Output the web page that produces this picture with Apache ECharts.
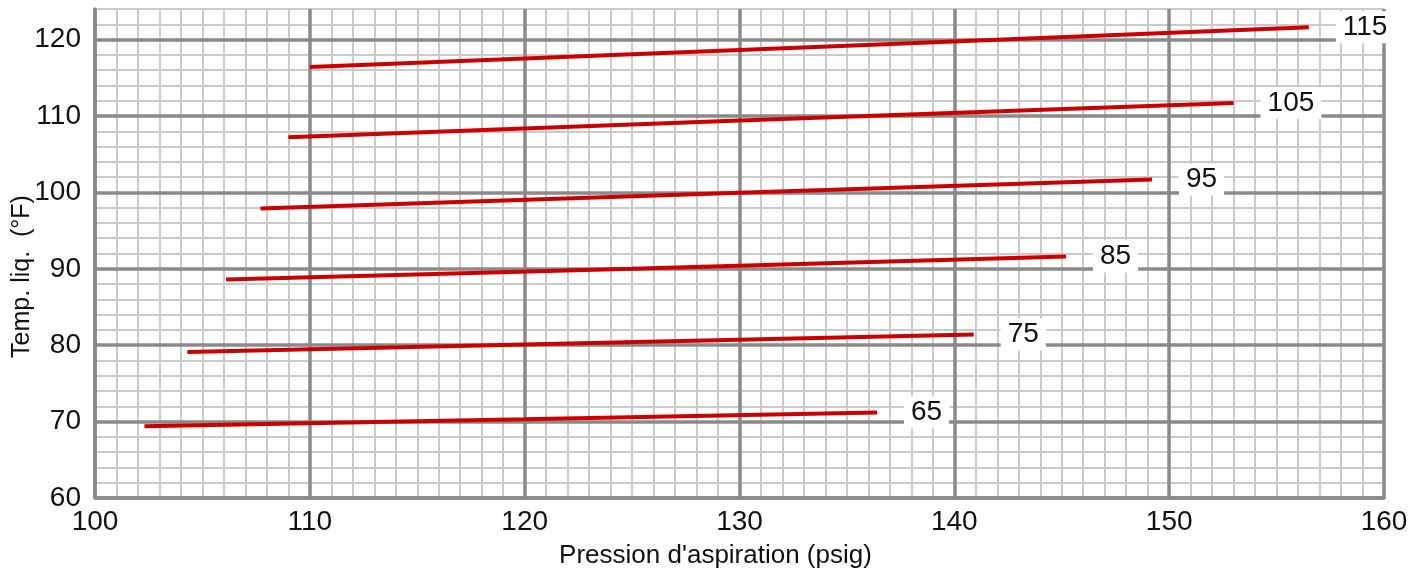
<!DOCTYPE html>
<html>
<head>
<meta charset="utf-8">
<script src="https://cdn.jsdelivr.net/npm/echarts@6/dist/echarts.min.js"></script>
<style>
  html, body { margin: 0; padding: 0; background: #fff; }
  #main { width: 1412px; height: 575px; }
</style>
</head>
<body>
<div id="main"></div>
<script>
// courbes : [pression, temp. liq.]
var names = ['65', '75', '85', '95', '105', '115'];
var c65 = [[102.3, 69.4], [120, 70.3], [136.4, 71.2]];
var c75 = [[104.3, 79.1], [120, 80.1], [140.9, 81.4]];
var c85 = [[106.1, 88.6], [125, 90.0], [145.2, 91.6]];
var c95 = [[107.7, 97.9], [130, 99.95], [149.2, 101.7]];
var c105 = [[109.0, 107.2], [130, 109.4], [153.0, 111.7]];
var c115 = [[110.0, 116.4], [135, 119.2], [156.5, 121.6]];
var curves = [c65, c75, c85, c95, c105, c115];

var xTicks = [100, 110, 120, 130, 140, 150, 160];
var yTicks = [60, 70, 80, 90, 100, 110, 120];

var font = 'Liberation Sans, Arial, sans-serif';
var major = '#8a8a8a';
var minor = '#cacaca';

var myChart = echarts.init(document.getElementById('main'));

var series = [];
for (var i = 0; i < curves.length; i++) {
    series.push({
        name: names[i],
        type: 'line',
        xAxisIndex: 0,
        yAxisIndex: 0,
        data: curves[i],
        showSymbol: false,
        smooth: false,
        z: 5,
        lineStyle: { color: '#cc0000', width: 4 },
        endLabel: {
            show: true,
            formatter: '{a}',
            distance: 27,
            backgroundColor: '#fff',
            padding: [2, 7],
            fontSize: 28,
            fontFamily: font,
            color: '#111'
        }
    });
}

option = {
    animation: false,
    backgroundColor: '#fff',
    grid: { left: 95, right: 28, top: 9, bottom: 77, containLabel: false, outerBoundsMode: 'none' },
    xAxis: [{
        type: 'value',
        min: xTicks[0],
        max: xTicks[xTicks.length - 1],
        interval: 10,
        position: 'bottom',
        z: 2,
        name: "Pression d'aspiration (psig)",
        nameLocation: 'middle',
        nameGap: 45,
        nameMoveOverlap: false,
        nameTextStyle: { fontSize: 26, fontFamily: font, color: '#111', padding: [0, 48, 0, 0] },
        axisLine: { show: true, lineStyle: { color: major, width: 3.5 } },
        axisTick: { show: false },
        axisLabel: { fontSize: 28, fontFamily: font, color: '#111', margin: 10 },
        splitLine: { show: true, lineStyle: { color: major, width: 3.5 } }
    }, {
        type: 'value',
        min: 100,
        max: 160,
        interval: 1,
        position: 'top',
        z: 1,
        axisLine: { show: false },
        axisTick: { show: false },
        axisLabel: { show: false },
        splitLine: { show: true, lineStyle: { color: minor, width: 2 } }
    }],
    yAxis: [{
        type: 'value',
        min: yTicks[0],
        max: 124,
        interval: 10,
        position: 'left',
        z: 2,
        name: 'Temp. liq.  (°F)',
        nameLocation: 'middle',
        nameGap: 60,
        nameMoveOverlap: false,
        nameTextStyle: { fontSize: 25, fontFamily: font, color: '#111', padding: [0, 46, 0, 0] },
        axisLine: { show: true, lineStyle: { color: major, width: 3.5 } },
        axisTick: { show: false },
        axisLabel: { fontSize: 28, fontFamily: font, color: '#111', margin: 14, showMaxLabel: false },
        splitLine: { show: true, showMaxLine: false, lineStyle: { color: major, width: 3.5 } }
    }, {
        type: 'value',
        min: 60,
        max: 124,
        interval: 2,
        position: 'right',
        z: 1,
        axisLine: { show: false },
        axisTick: { show: false },
        axisLabel: { show: false },
        splitLine: { show: true, lineStyle: { color: minor, width: 2 } }
    }],
    series: series
};

myChart.setOption(option);
</script>
</body>
</html>
